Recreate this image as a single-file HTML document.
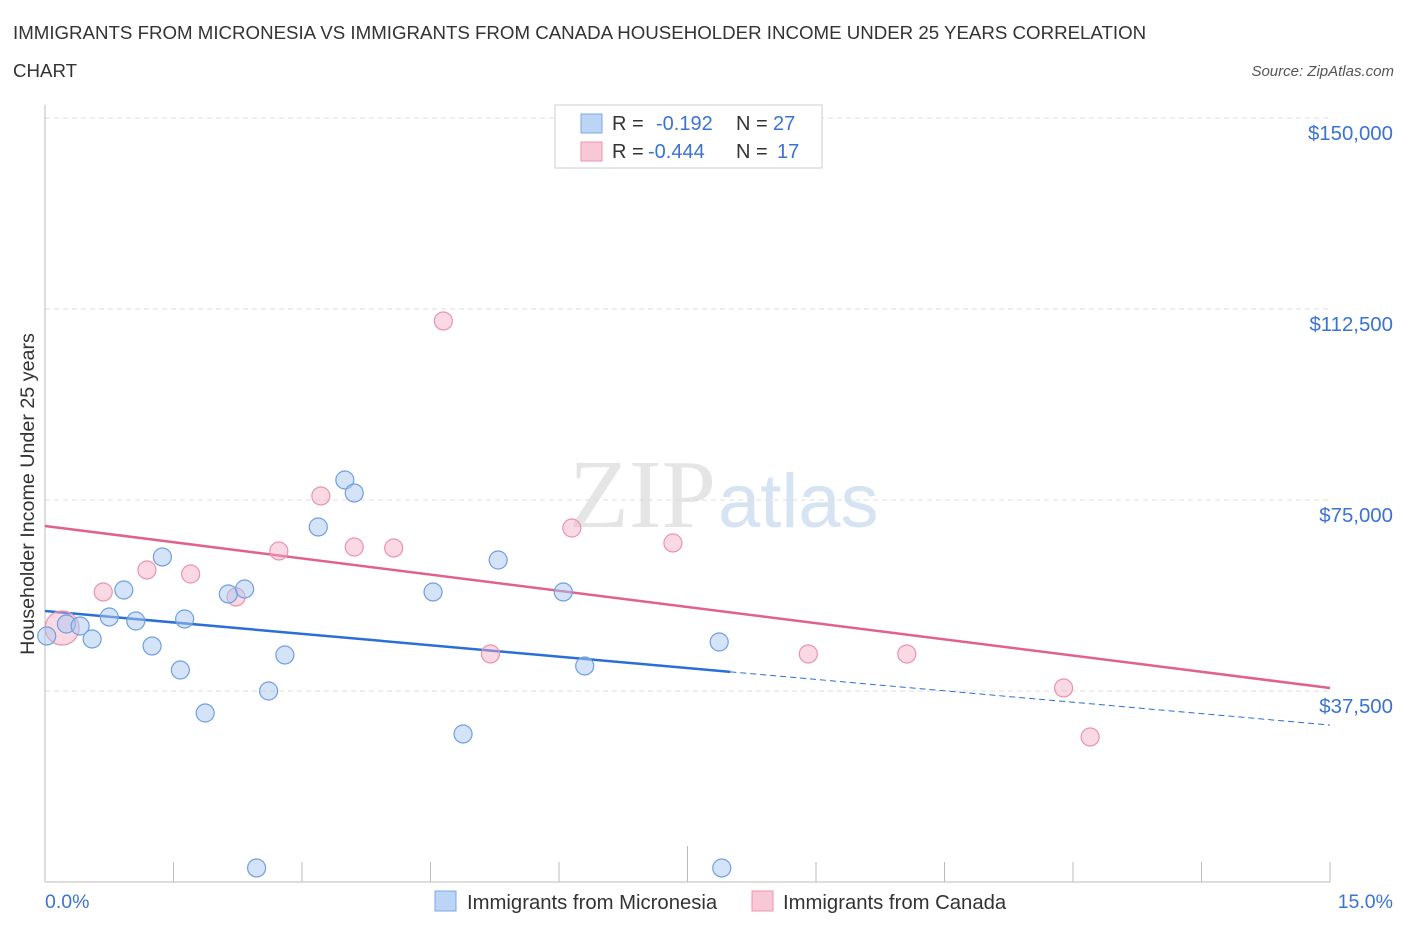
<!DOCTYPE html>
<html><head><meta charset="utf-8">
<style>
body{margin:0;background:#fff;font-family:"Liberation Sans",sans-serif;}
</style></head>
<body>
<svg id="chart" width="1406" height="930" xmlns="http://www.w3.org/2000/svg" font-family="Liberation Sans, sans-serif">
<text x="13" y="39" font-size="18.7" fill="#333">IMMIGRANTS FROM MICRONESIA VS IMMIGRANTS FROM CANADA HOUSEHOLDER INCOME UNDER 25 YEARS CORRELATION</text>
<text x="13" y="77" font-size="18.7" fill="#333">CHART</text>
<text x="1394" y="76" font-size="15" fill="#555" font-style="italic" text-anchor="end">Source: ZipAtlas.com</text>
<text x="716" y="527" font-size="98" fill="#e5e5e5" text-anchor="end" font-family="Liberation Serif, serif">ZIP</text>
<text x="718" y="527" font-size="76" fill="#d6e3f3">atlas</text>
<text transform="translate(34,494) rotate(-90)" font-size="19.7" fill="#333" text-anchor="middle">Householder Income Under 25 years</text>
<g id="grid"></g>
<g id="axes"></g>
<g id="lines"></g>
<g id="points"></g>
<g>
<rect x="555" y="105" width="267" height="63" fill="#fff" stroke="#ccc"/>
<rect x="581" y="114" width="21" height="19" fill="#bcd4f5" stroke="#7aa7e6"/>
<text x="612" y="130" font-size="20" fill="#333">R = </text><text x="656" y="130" font-size="20" fill="#3b73d1">-0.192</text>
<text x="736" y="130" font-size="20" fill="#333">N = </text><text x="773" y="130" font-size="20" fill="#3b73d1">27</text>
<rect x="581" y="142" width="21" height="19" fill="#f9c8d6" stroke="#eb94ae"/>
<text x="612" y="158" font-size="20" fill="#333">R = </text><text x="648" y="158" font-size="20" fill="#3b73d1">-0.444</text>
<text x="736" y="158" font-size="20" fill="#333">N = </text><text x="777" y="158" font-size="20" fill="#3b73d1">17</text>
</g>
<g>
<rect x="435" y="891" width="21" height="20" fill="#bcd4f5" stroke="#7aa7e6"/>
<text x="467" y="909" font-size="20.3" fill="#333">Immigrants from Micronesia</text>
<rect x="752" y="891" width="21" height="20" fill="#f9c8d6" stroke="#eb94ae"/>
<text x="783" y="909" font-size="20.3" fill="#333">Immigrants from Canada</text>
</g>
<text x="45" y="908" font-size="19.5" fill="#3b73d1">0.0%</text>
<text x="1393" y="908" font-size="19.5" fill="#3b73d1" text-anchor="end">15.0%</text>
</svg>
<script>
const yTicks=[37500,75000,112500,150000];
const yTickLabels=["$37,500","$75,000","$112,500","$150,000"];
const microX=[0.02,0.25,0.41,0.55,0.75,0.92,1.06,1.25,1.37,1.58,1.63,1.87,2.14,2.33,2.47,2.61,2.80,3.19,3.50,3.61,4.53,4.88,5.29,6.05,6.30,7.87,7.90];
const microY=[48300,50650,50260,47710,52030,57330,51240,46340,63810,41620,51640,33180,56550,57530,2750,37500,44570,69700,78930,76380,56940,29060,63220,56940,42410,47120,2750];
const canX=[0.20,0.68,1.19,1.70,2.23,2.73,3.22,3.61,4.07,4.65,5.20,6.15,7.33,8.91,10.06,11.89,12.20];
const canY=[49870,56940,61260,60470,55960,64990,75790,65770,65580,110150,44770,69500,66560,44770,44770,38090,28470];
const microTrend=[53200,30820];
const canTrend=[69900,38090];
const microSolidEnd=8.0;
const NS="http://www.w3.org/2000/svg";
function X(p){return 45+p/15*1285;}
function Y(v){return 882-v/37500*191;}
function mk(tag,attrs,parent){const e=document.createElementNS(NS,tag);for(const k in attrs)e.setAttribute(k,attrs[k]);document.getElementById(parent).appendChild(e);return e;}
yTicks.forEach((t,i)=>{
 const l=mk('line',{x1:45,x2:1330,y1:Y(t),y2:Y(t),stroke:'#ddd','stroke-dasharray':'5,4'},'grid');
 
 
 const tx=mk('text',{x:1393,y:Y(t)+22,'font-size':20.4,fill:'#3b73d1','text-anchor':'end'},'grid');
 tx.textContent=yTickLabels[i];
 
 
});
const ax=mk('line',{x1:45,x2:1330,y1:882,y2:882,stroke:'#bbb'},'axes');


const ay=mk('line',{x1:45,x2:45,y1:105,y2:882,stroke:'#bbb'},'axes');


for(let i=0;i<=10;i++){
 const t=mk('line',{x1:X(i*1.5),x2:X(i*1.5),y1:882,y2:i==5?846:862,stroke:'#bbb'},'axes');
 
 
}
function tv(tr,p){return tr[0]+(tr[1]-tr[0])*p/15;}
const bl=mk('line',{x1:X(0),y1:Y(tv(microTrend,0)),x2:X(microSolidEnd),y2:Y(tv(microTrend,microSolidEnd)),stroke:'#2a6fd6','stroke-width':2.5},'lines');


const bd=mk('line',{x1:X(microSolidEnd),y1:Y(tv(microTrend,microSolidEnd)),x2:X(15),y2:Y(tv(microTrend,15)),stroke:'#2a6fd6','stroke-width':1,'stroke-dasharray':'6,4'},'lines');


const pl=mk('line',{x1:X(0),y1:Y(tv(canTrend,0)),x2:X(15),y2:Y(tv(canTrend,15)),stroke:'#e0628c','stroke-width':2.5},'lines');


canX.forEach((x,i)=>{
 const c=mk('circle',{cx:X(x),cy:Y(canY[i]),r:i==0?17:9,fill:'rgba(245,170,195,0.45)',stroke:'#ea93ad','stroke-width':1.2},'points');
 
 
});
microX.forEach((x,i)=>{
 const c=mk('circle',{cx:X(x),cy:Y(microY[i]),r:9,fill:'rgba(170,200,240,0.5)',stroke:'#6f9fe0','stroke-width':1.2},'points');
 
 
});
</script>
</body></html>
